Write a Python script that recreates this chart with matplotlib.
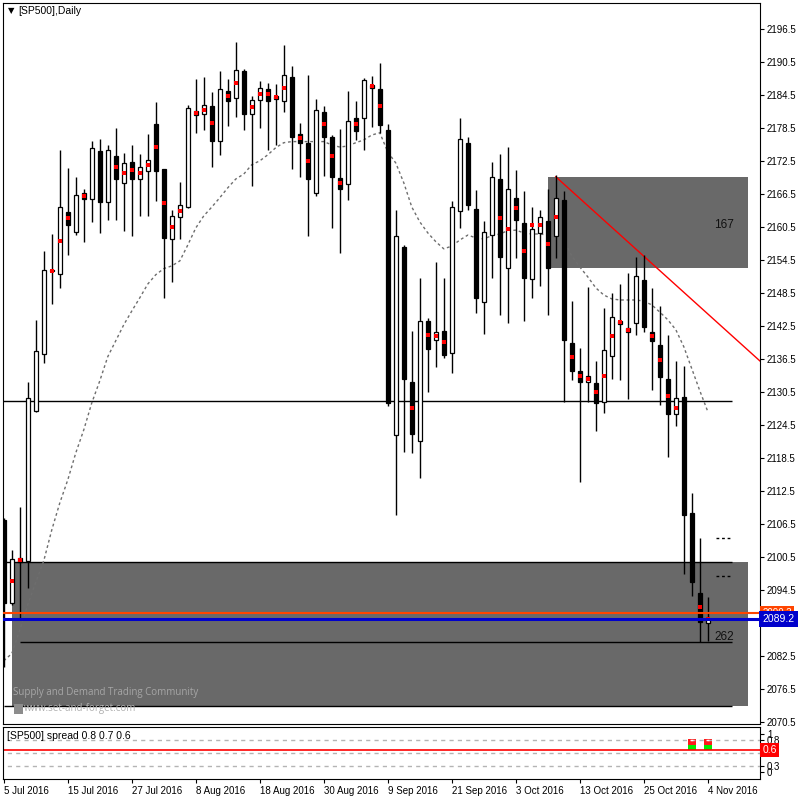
import numpy as np
import matplotlib.pyplot as plt
from matplotlib.patches import Rectangle
from matplotlib.transforms import blended_transform_factory

plt.rcParams['font.family'] = ['Liberation Sans', 'DejaVu Sans']

nan = np.nan

# daily candles, 5 Jul 2016 .. 4 Nov 2016
opens = [2107.2, 2092.1, 2100.3, 2099.8, 2127.0, 2137.4, 2152.6, 2152.0, 2163.2, 2159.6,
         2166.7, 2165.6, 2174.3, 2165.0, 2173.4, 2168.5, 2172.3, 2169.2, 2170.7, 2179.2,
         2171.0, 2158.3, 2162.3, 2164.1, 2181.6, 2181.0, 2182.5, 2176.1, 2185.2, 2183.9,
         2188.9, 2181.0, 2183.6, 2185.6, 2184.3, 2183.4, 2187.8, 2177.4, 2175.8, 2166.7,
         2181.4, 2176.9, 2169.4, 2168.3, 2180.3, 2180.3, 2186.3, 2185.6, 2178.1, 2122.7,
         2156.9, 2132.3, 2121.6, 2143.4, 2140.0, 2141.6, 2137.6, 2163.4, 2175.8, 2163.8,
         2146.9, 2159.0, 2169.2, 2153.0, 2165.8, 2161.2, 2151.0, 2159.4, 2161.6, 2158.9,
         2165.4, 2139.4, 2134.3, 2132.3, 2132.1, 2128.7, 2137.0, 2143.4, 2142.1, 2143.0,
         2150.9, 2141.4, 2139.0, 2132.9, 2126.5, 2129.6, 2108.5, 2093.9, 2088.4]
highs = [2107.6, 2101.8, 2109.6, 2132.3, 2143.6, 2156.1, 2159.2, 2174.5, 2171.2, 2169.6,
         2167.4, 2176.1, 2176.5, 2175.4, 2178.5, 2174.0, 2175.4, 2173.8, 2177.4, 2183.2,
         2171.0, 2163.6, 2168.7, 2182.7, 2187.4, 2187.8, 2185.0, 2188.9, 2187.4, 2194.1,
         2189.2, 2184.3, 2187.0, 2186.7, 2186.5, 2193.6, 2189.8, 2179.4, 2188.1, 2183.8,
         2182.5, 2177.2, 2178.3, 2185.2, 2183.4, 2187.6, 2188.0, 2190.3, 2179.2, 2163.6,
         2157.2, 2141.6, 2151.2, 2144.0, 2154.1, 2151.2, 2165.2, 2180.3, 2176.9, 2167.2,
         2161.6, 2172.3, 2173.8, 2175.0, 2170.9, 2167.0, 2164.1, 2163.6, 2167.4, 2170.0,
         2167.0, 2147.0, 2138.5, 2149.6, 2136.1, 2145.8, 2148.5, 2150.1, 2152.1, 2155.0,
         2155.4, 2149.4, 2146.1, 2140.9, 2136.1, 2135.2, 2112.1, 2103.9, 2093.2]
lows = [2080.5, 2091.8, 2089.2, 2094.9, 2126.9, 2135.8, 2146.5, 2149.4, 2155.4, 2159.0,
        2157.8, 2161.4, 2159.4, 2161.8, 2161.8, 2159.8, 2158.9, 2162.5, 2162.5, 2165.2,
        2147.6, 2150.5, 2158.3, 2163.9, 2177.6, 2178.1, 2171.4, 2173.6, 2178.9, 2180.5,
        2178.1, 2167.9, 2178.5, 2174.5, 2175.4, 2181.4, 2171.0, 2169.6, 2158.9, 2166.1,
        2169.8, 2160.3, 2155.8, 2165.4, 2176.3, 2174.5, 2178.7, 2177.6, 2128.0, 2108.1,
        2119.6, 2119.4, 2114.9, 2130.5, 2135.0, 2136.7, 2134.0, 2160.3, 2163.6, 2144.9,
        2141.0, 2151.2, 2144.5, 2143.0, 2154.9, 2143.4, 2147.6, 2149.8, 2144.5, 2154.9,
        2128.7, 2132.7, 2114.1, 2128.7, 2123.4, 2126.7, 2132.9, 2132.7, 2129.2, 2140.9,
        2141.4, 2130.9, 2128.1, 2118.7, 2124.3, 2097.4, 2093.4, 2085.0, 2085.2]
closes = [2092.1, 2100.1, 2099.6, 2129.4, 2137.9, 2152.7, 2152.4, 2164.1, 2160.9, 2166.3,
          2165.6, 2174.9, 2165.0, 2174.5, 2169.2, 2172.1, 2169.2, 2171.4, 2172.7, 2170.7,
          2158.5, 2162.5, 2164.5, 2182.1, 2180.9, 2182.7, 2176.1, 2185.6, 2183.4, 2189.0,
          2181.0, 2183.6, 2185.8, 2183.4, 2183.8, 2188.1, 2176.9, 2175.8, 2169.2, 2181.8,
          2176.9, 2169.6, 2167.4, 2179.8, 2178.0, 2187.2, 2185.8, 2179.0, 2128.5, 2158.9,
          2132.9, 2122.9, 2143.4, 2138.3, 2141.4, 2137.2, 2164.1, 2176.5, 2164.5, 2147.6,
          2159.6, 2169.6, 2155.0, 2167.4, 2161.8, 2151.2, 2160.1, 2162.3, 2153.0, 2165.8,
          2140.0, 2134.3, 2132.3, 2133.4, 2128.5, 2138.1, 2144.1, 2142.9, 2141.4, 2151.6,
          2142.3, 2139.8, 2133.2, 2126.5, 2129.4, 2108.1, 2095.9, 2088.7, 2089.2]
# red marker indicator
dots = [nan, 2096.1, 2099.9, nan, nan, nan, 2152.5, 2157.9, 2162.1, nan,
        2166.1, nan, nan, nan, 2171.4, 2170.3, 2170.9, 2170.3, 2171.8, 2175.0,
        2164.9, 2160.5, 2163.4, nan, 2181.2, 2181.8, 2179.4, nan, 2184.3, 2186.7,
        nan, 2182.3, 2184.7, 2184.7, 2184.1, 2185.8, nan, 2176.7, 2172.5, nan,
        2179.2, 2173.4, 2168.5, nan, 2179.2, nan, 2186.1, 2182.5, nan, nan,
        nan, 2127.6, nan, 2140.9, 2140.7, 2139.6, nan, nan, nan, nan,
        nan, nan, 2162.1, 2160.1, 2163.9, 2156.1, 2160.9, 2160.9, 2157.4, 2162.3,
        nan, 2136.9, 2133.4, 2132.9, 2130.5, 2133.4, 2140.7, 2143.2, 2141.8, nan,
        nan, 2140.7, 2136.3, 2129.8, 2127.6, nan, nan, 2091.4, 2089.2]
# moving average (dashed grey)
ma = [2081.6, 2082.9, 2087.2, 2091.8, 2095.9, 2099.8, 2105.4, 2110.3, 2114.5, 2119.4,
      2123.6, 2128.5, 2132.5, 2136.9, 2139.8, 2142.7, 2145.2, 2147.6, 2150.1, 2151.8,
      2152.9, 2153.4, 2154.3, 2157.2, 2160.3, 2162.5, 2164.1, 2165.8, 2167.6, 2169.2,
      2170.1, 2171.8, 2172.5, 2173.6, 2174.9, 2175.8, 2176.0, 2176.0, 2176.0, 2176.0,
      2176.0, 2175.4, 2175.0, 2175.2, 2175.8, 2176.3, 2177.2, 2177.6, 2174.1, 2172.1,
      2168.5, 2164.1, 2161.4, 2159.4, 2157.8, 2156.5, 2157.0, 2158.1, 2159.0, 2158.5,
      2158.3, 2158.9, 2159.2, 2159.8, 2159.9, 2159.4, 2159.2, 2159.2, 2159.0, 2158.9,
      2158.1, 2155.2, 2153.2, 2151.4, 2149.4, 2148.1, 2147.4, 2147.2, 2147.2, 2147.2,
      2147.0, 2146.3, 2145.0, 2143.6, 2141.8, 2138.7, 2134.7, 2130.7, 2126.9]

tick_bars = list(range(0, 89, 8))
tick_labels = ['5 Jul 2016', '15 Jul 2016', '27 Jul 2016', '8 Aug 2016', '18 Aug 2016',
               '30 Aug 2016', '9 Sep 2016', '21 Sep 2016', '3 Oct 2016', '13 Oct 2016',
               '25 Oct 2016', '4 Nov 2016']

# supply / demand zones: start bar, end bar, low, high
zones = [(68, 93, 2153.0, 2169.6), (1, 93, 2073.3, 2099.5)]
zone_labels = [(90, 2160.8, '167'), (90, 2086.0, '262')]
support = 2128.9
level_262 = 2085.0
trend = ([69, 94.6], [2169.6, 2136.0])
dash_levels = [2103.9, 2097.0]
ask_price = 2090.3
bid_price = 2089.2

spread_bars = [86, 88]
spread_levels = [0.8, 0.55, 0.3]
spread_line = 0.6

fig = plt.figure(figsize=(8, 8), dpi=100)
ax = fig.add_axes([3/800, 1-724/800, 757/800, 721/800])
ax.set_xlim(-0.1, 94.525)
ax.set_ylim(2070.1, 2201.2)

for x0, x1, lo, hi in zones:
    ax.add_patch(Rectangle((x0, lo), x1 - x0, hi - lo, facecolor='#696969',
                           edgecolor='none', zorder=1))
ax.hlines([zones[1][3], zones[1][2]], 0, 91, color='black', lw=1, zorder=2)
ax.hlines(support, -1, 91, color='black', lw=1, zorder=2)
ax.hlines(level_262, 2, 91, color='black', lw=1, zorder=2)
ax.hlines(dash_levels, 89, 91, color='black', lw=1, linestyles=(0, (2, 2)), zorder=2)
ax.plot(trend[0], trend[1], color='red', lw=1, zorder=2)

x = np.arange(len(opens))
o = np.array(opens); h = np.array(highs); l = np.array(lows); c = np.array(closes)
up = c >= o
ax.plot(x, ma, color='#6e6e6e', lw=1, ls=(0, (2, 2)), zorder=2.5)
ax.vlines(x, l, h, color='black', lw=1, zorder=3)
ax.bar(x, np.maximum(np.abs(c - o), 0.2), bottom=np.minimum(o, c), width=0.55,
       color=np.where(up, 'white', 'black'), edgecolor='black', lw=0.9, zorder=4)
ax.scatter(x, dots, marker='s', s=5, color='red', linewidths=0, zorder=5)

ax.axhline(ask_price, color='#ff4500', lw=1.5, zorder=6)
ax.axhline(bid_price, color='#0000cc', lw=2.2, zorder=6)

for bx, by, t in zone_labels:
    ax.text(bx, by, t, ha='center', va='center', fontsize=8.5, color='#111111', zorder=7)

ax.text(1.2, 2075.9, 'Supply and Demand Trading Community', family='Open Sans',
        fontsize=7, color='#a6a6a6', va='center', zorder=7)
ax.add_patch(Rectangle((1.25, 2071.9), 1.1, 1.8, facecolor='#8c8c8c', edgecolor='none', zorder=7))
ax.text(2.5, 2072.9, 'www.set-and-forget.com', family='Open Sans',
        fontsize=7, color='#b0b0b0', va='center', zorder=7)

ax.yaxis.tick_right()
ax.set_yticks(np.arange(2070.5, 2197, 6))
ax.set_yticklabels(['%.1f' % v for v in np.arange(2070.5, 2197, 6)])
ax.tick_params(axis='y', length=3, labelsize=7, pad=2)
ax.set_xticks([])

tr = blended_transform_factory(ax.transAxes, ax.transData)
ax.text(1.003, ask_price, '%.1f' % ask_price, transform=tr, fontsize=7, color='white',
        va='center', ha='left', bbox=dict(facecolor='#ff4500', edgecolor='none', pad=1.5),
        clip_on=False, zorder=8)
ax.text(1.003, bid_price, '%.1f' % bid_price, transform=tr, fontsize=7.5, color='white',
        va='center', ha='left', bbox=dict(facecolor='#0000cc', edgecolor='none', pad=2.5),
        clip_on=False, zorder=9)

fig.text(8/800, 1-11/800, '\u25bc', fontsize=6, family='DejaVu Sans', va='center')
fig.text(18/800, 1-11/800, '[SP500],Daily', fontsize=7.5, va='center')

# spread sub window
ax2 = fig.add_axes([3/800, 1-779/800, 757/800, 52/800])
ax2.set_xlim(-0.1, 94.525)
ax2.set_ylim(0.05, 1.05)
ax2.hlines(spread_levels, -1, 95, color='#b4b4b4', lw=1, linestyles=(0, (3, 3)))
ax2.axhline(spread_line, color='red', lw=1.2)
ax2.bar(spread_bars, [0.1] * len(spread_bars), bottom=0.6, width=0.95, color='#00ee00')
ax2.bar(spread_bars, [0.12] * len(spread_bars), bottom=0.7, width=0.95, color='#ff1a1a')
ax2.hlines([0.8] * len(spread_bars), np.array(spread_bars) - 0.2, np.array(spread_bars) + 0.2,
           color='white', lw=1)
ax2.text(0.005, 0.88, '[SP500] spread 0.8 0.7 0.6', transform=blended_transform_factory(
    ax2.transAxes, ax2.transData), fontsize=7.5, va='center')
ax2.yaxis.tick_right()
ax2.set_yticks([0.92, 0.8, 0.55, 0.3, 0.18], ['1', '0.8', '0.5', '0.3', '0'])
ax2.tick_params(axis='y', length=3, labelsize=7, pad=2)
tr2 = blended_transform_factory(ax2.transAxes, ax2.transData)
ax2.text(1.003, spread_line, '0.6', transform=tr2, fontsize=7.5, color='white', va='center',
         ha='left', bbox=dict(facecolor='red', edgecolor='none', pad=1.5), clip_on=False)

ax2.set_xticks(tick_bars, tick_labels)
ax2.tick_params(axis='x', length=3, labelsize=7, pad=2)
for lab in ax2.get_xticklabels():
    lab.set_ha('left')

fig.savefig('out.png', dpi=100)
